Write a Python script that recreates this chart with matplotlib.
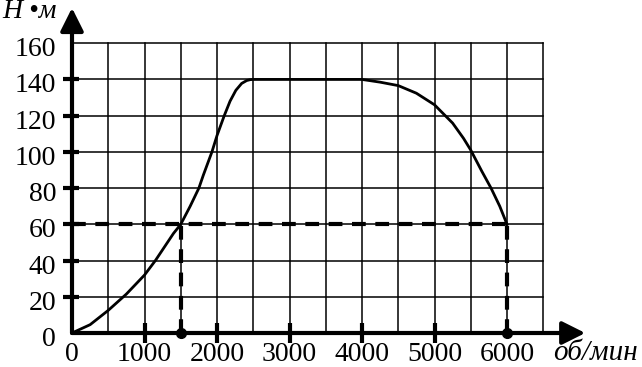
import numpy as np
import matplotlib.pyplot as plt

# torque curve
rpm = [0, 250, 500, 750, 1000, 1150, 1250, 1400, 1500, 1630, 1750, 1810, 1930, 2000,
       2100, 2180, 2260, 2340, 2410, 2460, 2500, 3000, 3500, 4000, 4250, 4500, 4750,
       5000, 5250, 5400, 5500, 5650, 5780, 5900, 6000]
torque = [0, 4.6, 12.5, 21.5, 32, 40, 46, 55, 60, 70, 80, 87, 100, 109,
          120, 128, 134, 137.8, 139.4, 139.9, 140, 140, 140, 140, 138.5, 136.6, 132.4,
          126, 115.9, 107.5, 101, 89.5, 80, 70, 60]

x_ticks = [0, 1000, 2000, 3000, 4000, 5000, 6000]
y_ticks = [0, 20, 40, 60, 80, 100, 120, 140, 160]
x_marks = [1000, 2000, 3000, 4000, 5000]
y_marks = [20, 40, 60, 80, 100, 120, 140]
mark_rpm = [1500, 6000]
mark_torque = 60

plt.rcParams['font.family'] = ['Liberation Serif', 'DejaVu Serif']

fig = plt.figure(figsize=(6.42, 3.67), dpi=100)
ax = fig.add_axes([72 / 642, 34 / 367, 522 / 642, 326 / 367])
ax.set_xlim(0, 7200)
ax.set_ylim(0, 180)
ax.axis('off')

# grid
for gx in np.arange(500, 6501, 500):
    ax.plot([gx, gx], [0, 160], color='black', lw=1.1, zorder=1)
for gy in np.arange(20, 161, 20):
    ax.plot([0, 6500], [gy, gy], color='black', lw=1.1, zorder=1)

# axes with arrows
arrow = dict(arrowstyle='-|>,head_length=0.7,head_width=0.35',
             lw=3, color='black', mutation_scale=20, shrinkA=0, shrinkB=0)
ax.annotate('', xy=(7080, 0), xytext=(0, 0), annotation_clip=False, arrowprops=arrow)
ax.annotate('', xy=(0, 179.5), xytext=(0, 0), annotation_clip=False, arrowprops=arrow)

# tick marks
for xm in x_marks:
    ax.plot([xm, xm], [-5.5, 5.5], color='black', lw=3, solid_capstyle='butt', clip_on=False, zorder=4)
for ym in y_marks:
    ax.plot([-130, 100], [ym, ym], color='black', lw=3, solid_capstyle='butt', clip_on=False, zorder=4)

# curve
ax.plot(rpm, torque, color='black', lw=2, zorder=3, solid_joinstyle='round')

# dashed guide lines
dash = dict(color='black', lw=3, linestyle=(0, (3.3, 2.3)), zorder=3, clip_on=False)
ax.plot([0, mark_rpm[1]], [mark_torque, mark_torque], **dash)
for mr in mark_rpm:
    ax.plot([mr, mr], [0, mark_torque], **dash)
ax.plot(mark_rpm, [0, 0], 'o', color='black', ms=7, zorder=5, clip_on=False)

# tick labels
for xt in x_ticks:
    ax.text(xt, -15.5, str(xt), ha='center', va='baseline', fontsize=20)
for yt in y_ticks:
    ax.text(-220, yt - 7.2, str(yt), ha='right', va='baseline', fontsize=20)

fig.text(30 / 642, 1 - 12 / 367, 'Н •м', ha='center', va='center', fontsize=20, style='italic')
fig.text(596 / 642, 1 - 353 / 367, 'об/мин', ha='center', va='center', fontsize=21, style='italic')

fig.savefig('out.png', dpi=100)
